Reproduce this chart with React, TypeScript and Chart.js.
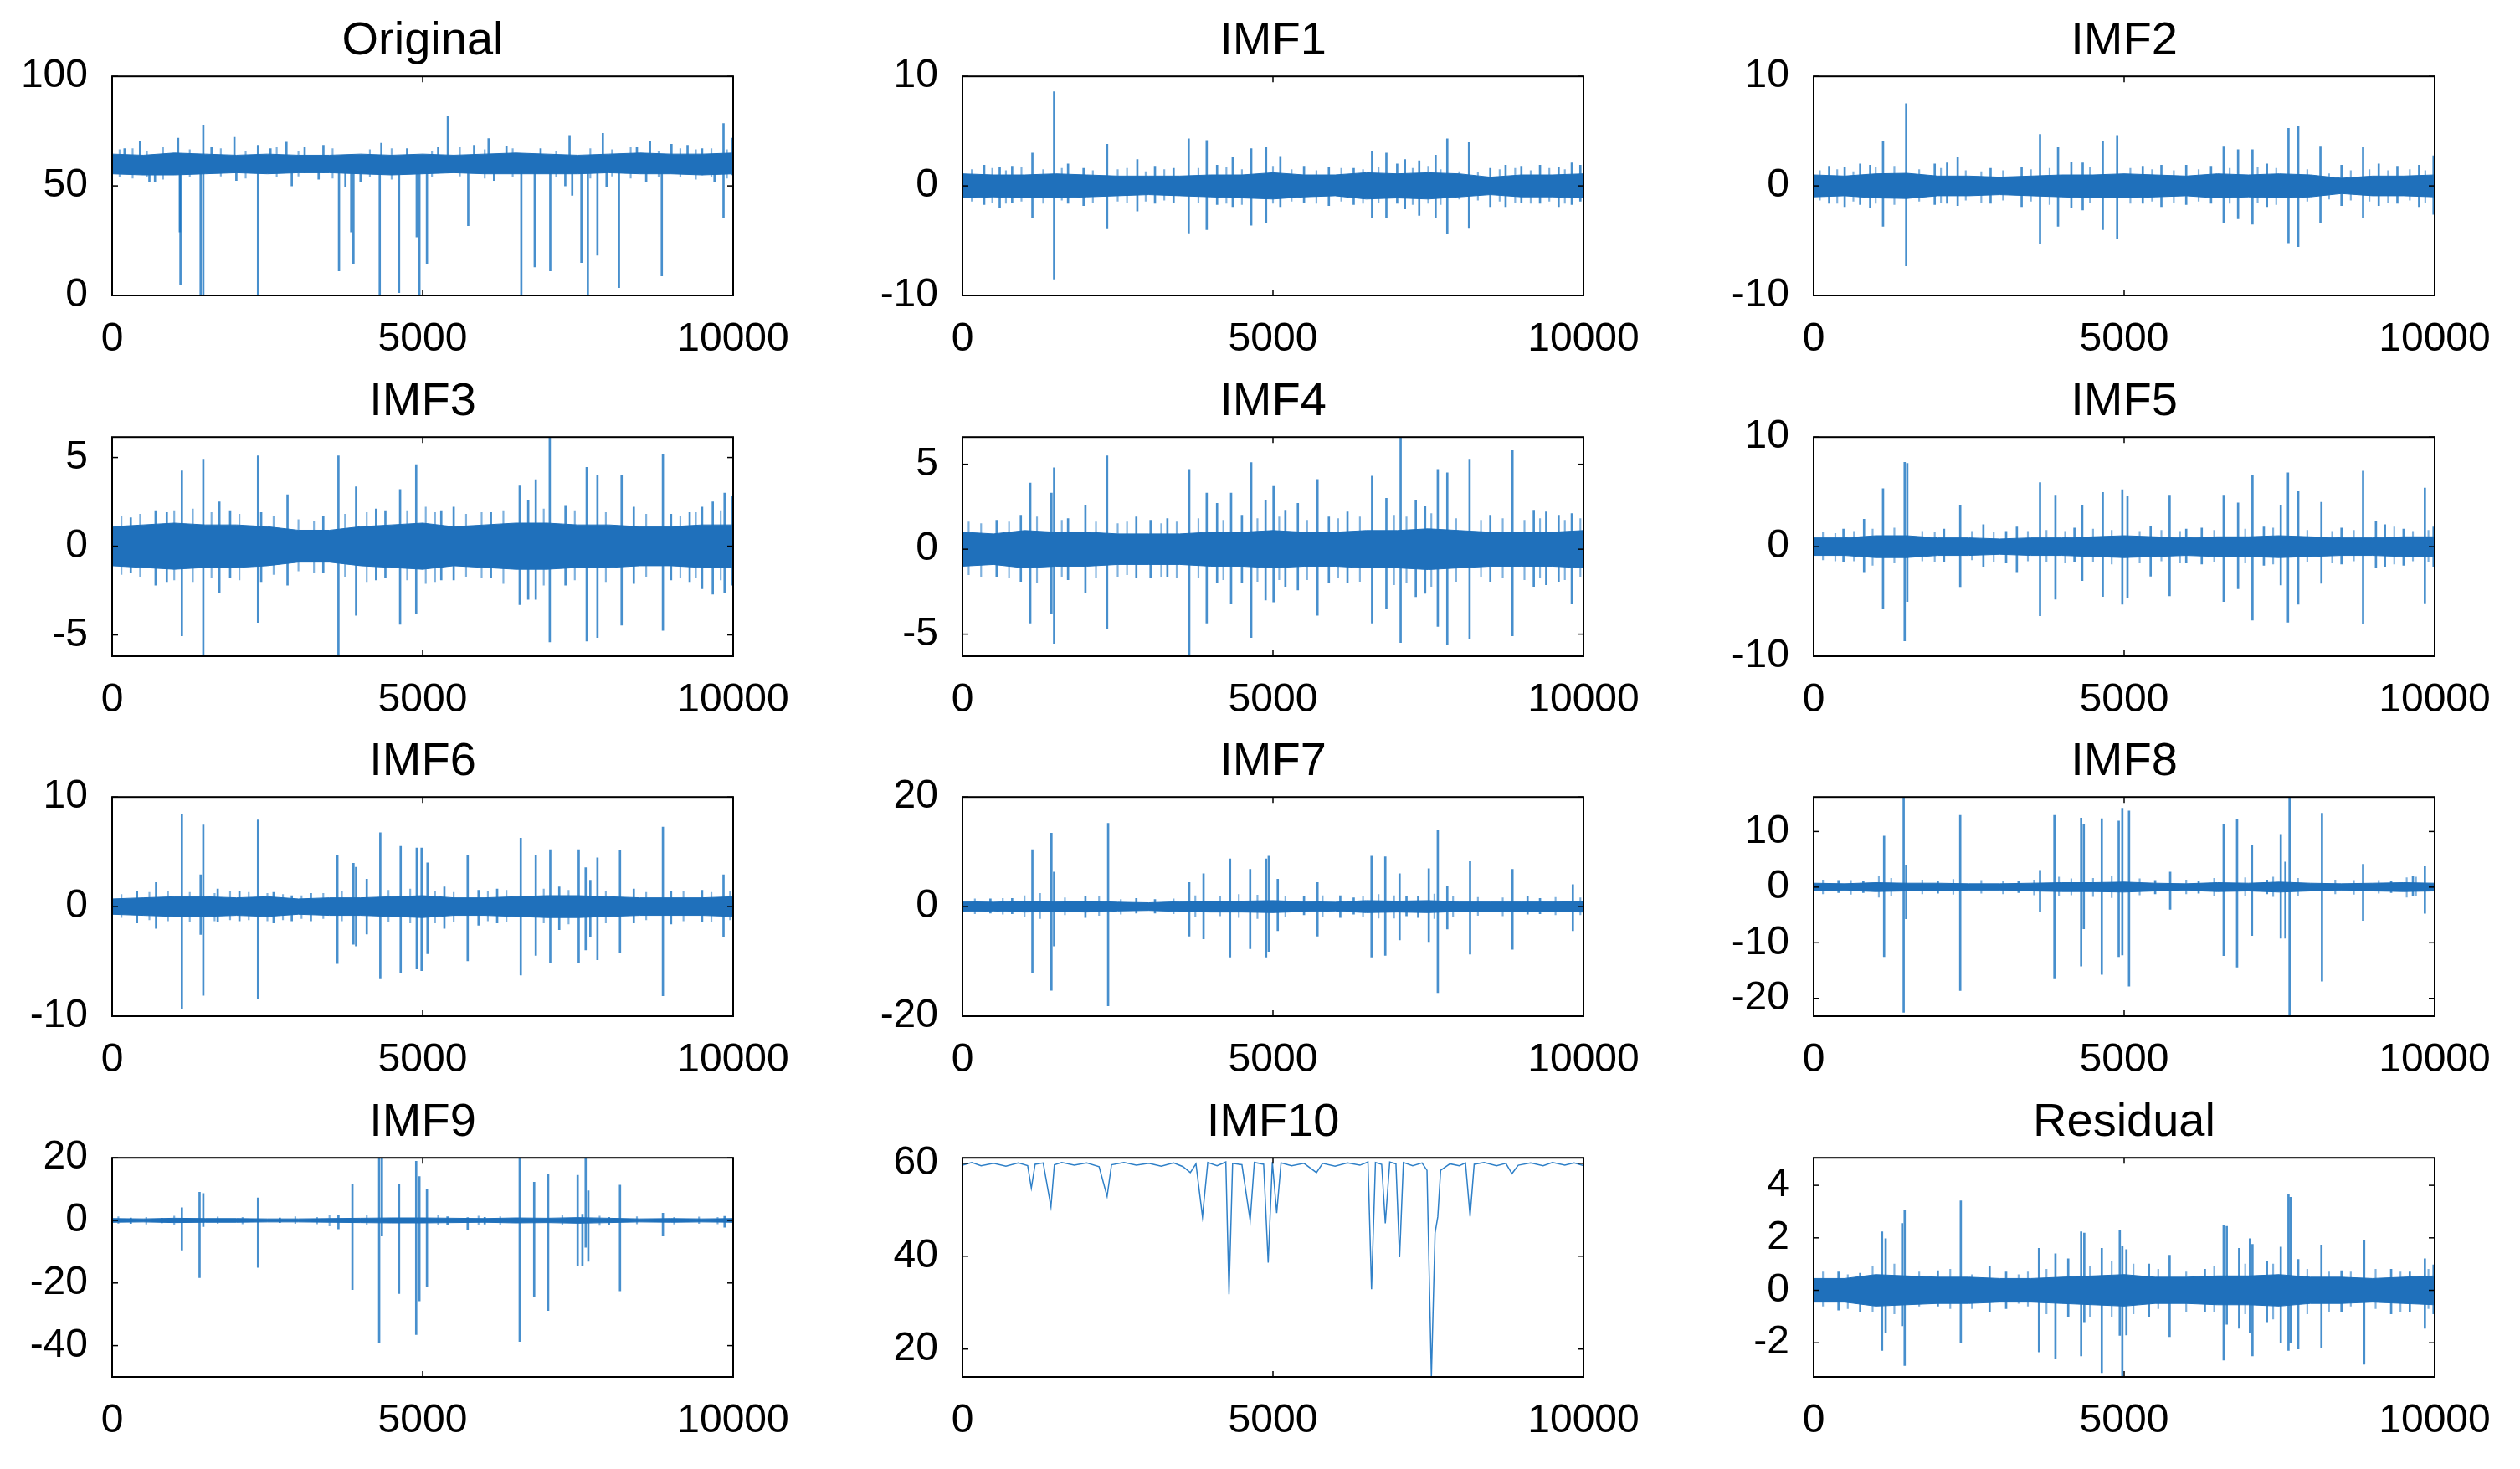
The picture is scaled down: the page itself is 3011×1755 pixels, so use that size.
import React, { useEffect, useRef } from 'react';
import { Chart, registerables } from 'chart.js';

Chart.register(...registerables);

// ---------- shared axes ----------
const xTickValues = [0, 5000, 10000];
const bandX = [0, 500, 1000, 1500, 2000, 2500, 3000, 3500, 4000, 4500, 5000, 5500, 6000, 6500, 7000, 7500, 8000, 8500, 9000, 9500, 10000];

// ---------- Original ----------
const origBandHi = [64.5, 64, 65, 64.5, 64, 64.5, 64, 64, 64.5, 64, 64.5, 64, 64.5, 65, 64.5, 64, 64.5, 65, 64.5, 64.5, 65];
const origBandLo = [55.5, 55, 55, 55.5, 56, 55.5, 56, 56, 55.5, 55, 55.5, 56, 55.5, 55.5, 55.5, 55.5, 56, 55.5, 55.5, 55, 55.5];
const origSpikes = [
  [200, 67, 57], [449, 70.5, 57], [600, 64, 52], [690, 63, 52], [1062, 71.8, 56], [1090, 62, 29], [1100, 63, 5],
  [1425, 63, 0], [1468, 77.8, 0], [1600, 67.5, 57], [1969, 72.2, 56], [2000, 63, 52.5], [2349, 68.5, 0], [2550, 67, 56],
  [2807, 70, 56], [2893, 63, 50], [3100, 67.5, 56], [3325, 63, 53], [3402, 68.5, 56], [3653, 63, 11.2], [3756, 63, 49.5],
  [3850, 63, 29], [3886, 63, 14.6], [4000, 63, 52], [4309, 63, 0], [4335, 69.5, 56], [4620, 63, 1.3], [4750, 67, 56],
  [4905, 63, 26.7], [4948, 63, 0], [5069, 63, 14.6], [5250, 67.5, 56], [5406, 81.6, 56], [5734, 63, 31.8], [5829, 68.5, 56],
  [6062, 71.6, 56], [6150, 63, 52.5], [6350, 68, 56], [6589, 63, 0], [6805, 63, 13], [6900, 67, 56], [7055, 63, 11.2],
  [7297, 63, 50], [7366, 73, 56], [7409, 63, 45.7], [7556, 60, 15], [7660, 63, 0], [7815, 63, 18.4], [7902, 74, 56],
  [7962, 63, 49.5], [8161, 63, 3.6], [8450, 67.5, 56], [8600, 63, 52], [8661, 70.5, 56], [8851, 63, 8.9], [9007, 69, 56],
  [9266, 68.5, 56], [9500, 67, 55], [9700, 63, 52], [9845, 78.5, 35.6], [9983, 71.8, 55],
];
const origFringe = [
  [120, 66.5, 54], [330, 67, 53.5], [560, 66, 54], [820, 67.5, 53], [1250, 66.5, 54], [1750, 67, 54.5], [2150, 66, 53.5],
  [2650, 67.5, 54], [3000, 66, 54.5], [3550, 67, 53.5], [4150, 66.5, 54], [4500, 67, 53], [5150, 66, 54], [5600, 67.5, 54.5],
  [6000, 66.5, 53.5], [6450, 67, 54], [7150, 66, 54], [7700, 67, 53.5], [8050, 66.5, 54.5], [8350, 67.5, 53.5],
  [8800, 66, 54], [9150, 67, 54], [9400, 66.5, 53], [9650, 67, 54], [9900, 66.5, 53.5],
];

// ---------- IMF1 ----------
const imf1BandHi = [1.1, 1.0, 1.0, 1.1, 1.0, 0.9, 0.9, 0.9, 1.0, 1.0, 1.2, 1.0, 1.0, 1.2, 1.1, 1.2, 1.1, 0.8, 1.0, 1.0, 1.1];
const imf1BandLo = [-1.1, -1.0, -1.1, -1.1, -1.0, -0.9, -0.8, -0.9, -1.0, -1.1, -1.2, -1.0, -0.9, -1.2, -1.1, -1.2, -1.0, -0.8, -1.0, -1.0, -1.1];
const imf1Spikes = [
  [350, 1.9, -1.7], [600, 1.7, -2.0], [800, 1.8, -1.5], [1126, 3.0, -2.9], [1476, 8.6, -8.5], [1700, 2.0, -1.6],
  [1950, 1.6, -1.8], [2329, 3.8, -3.85], [2816, 2.4, -2.3], [3100, 1.8, -1.6], [3400, 1.6, -1.5], [3643, 4.3, -4.3],
  [3933, 4.15, -4.0], [4100, 1.9, -1.7], [4352, 2.6, -1.9], [4650, 3.4, -3.6], [4889, 3.5, -3.4], [5119, 2.7, -1.9],
  [5500, 1.8, -1.5], [5900, 1.7, -1.8], [6300, 1.6, -1.7], [6596, 3.2, -2.9], [6826, 3.0, -2.9], [7000, 2.0, -1.6],
  [7125, 2.4, -2.1], [7355, 2.3, -2.7], [7619, 2.8, -2.9], [7807, 4.3, -4.4], [8157, 3.95, -3.8], [8500, 1.6, -1.9],
  [8746, 1.9, -1.9], [9000, 1.8, -1.5], [9300, 1.9, -1.6], [9600, 1.7, -1.9], [9812, 2.1, -1.7], [9950, 1.9, -1.4],
];
const imf1Fringe = [
  [150, 1.5, -1.4], [480, 1.6, -1.5], [700, 1.4, -1.6], [950, 1.7, -1.4], [1300, 1.5, -1.6], [1600, 1.6, -1.3],
  [2100, 1.4, -1.5], [2500, 1.5, -1.4], [2650, 1.6, -1.5], [2950, 1.3, -1.4], [3250, 1.5, -1.3], [3800, 1.6, -1.5],
  [4250, 1.7, -1.6], [4500, 1.5, -1.7], [5000, 1.8, -1.6], [5300, 1.5, -1.4], [5700, 1.4, -1.6], [6100, 1.6, -1.4],
  [6450, 1.5, -1.6], [6700, 1.7, -1.5], [7250, 1.6, -1.7], [7500, 1.8, -1.6], [7700, 1.5, -1.7], [8000, 1.3, -1.2],
  [8300, 1.2, -1.3], [8650, 1.5, -1.4], [8900, 1.6, -1.5], [9150, 1.4, -1.6], [9450, 1.6, -1.4], [9700, 1.5, -1.6],
];

// ---------- IMF2 ----------
const imf2BandHi = [1.0, 0.9, 1.1, 1.15, 0.9, 0.9, 0.8, 0.9, 1.0, 1.0, 1.1, 1.0, 0.9, 1.1, 1.0, 1.1, 1.0, 0.7, 0.9, 0.9, 1.0];
const imf2BandLo = [-1.0, -0.9, -1.1, -1.15, -0.9, -0.9, -0.8, -0.9, -1.0, -1.1, -1.1, -1.0, -0.9, -1.1, -1.0, -1.1, -1.0, -0.7, -0.9, -0.9, -1.0];
const imf2Spikes = [
  [250, 1.8, -1.6], [500, 1.7, -1.9], [750, 2.0, -1.7], [911, 1.9, -2.0], [1118, 4.1, -3.7], [1491, 7.5, -7.3],
  [1950, 2.0, -1.7], [2150, 2.1, -1.6], [2320, 2.6, -1.8], [2850, 1.6, -1.6], [3350, 1.7, -1.9], [3646, 4.7, -5.3],
  [3936, 3.5, -3.7], [4150, 2.2, -2.0], [4333, 2.1, -2.2], [4656, 4.1, -4.0], [4888, 4.6, -4.8], [5300, 1.8, -1.6],
  [5600, 1.9, -1.9], [6000, 1.9, -1.7], [6400, 1.8, -1.6], [6603, 3.55, -3.4], [6835, 3.3, -3.0], [7067, 3.3, -3.5],
  [7300, 2.0, -1.9], [7647, 5.25, -5.2], [7804, 5.4, -5.55], [8161, 3.55, -3.4], [8500, 1.9, -1.8], [8848, 3.5, -2.9],
  [9100, 2.0, -1.8], [9400, 1.8, -1.6], [9750, 1.9, -1.9], [9983, 2.75, -2.6],
];
const imf2Fringe = [
  [100, 1.4, -1.3], [380, 1.5, -1.6], [640, 1.3, -1.4], [1000, 1.7, -1.6], [1300, 1.8, -1.7], [1700, 1.5, -1.4],
  [2050, 1.6, -1.5], [2450, 1.4, -1.3], [2700, 1.3, -1.5], [3050, 1.4, -1.3], [3500, 1.5, -1.4], [3800, 1.6, -1.7],
  [4450, 1.7, -1.5], [5100, 1.6, -1.6], [5450, 1.5, -1.4], [5800, 1.4, -1.5], [6200, 1.5, -1.4], [6700, 1.6, -1.6],
  [7150, 1.7, -1.5], [7450, 1.6, -1.7], [7950, 1.5, -1.4], [8300, 1.1, -1.2], [8650, 1.4, -1.3], [8950, 1.5, -1.4],
  [9250, 1.4, -1.5], [9600, 1.5, -1.3], [9850, 1.4, -1.5],
];

// ---------- IMF3 ----------
const imf3BandHi = [1.1, 1.2, 1.3, 1.2, 1.2, 1.1, 0.9, 0.9, 1.1, 1.2, 1.3, 1.1, 1.2, 1.3, 1.3, 1.2, 1.2, 1.1, 1.1, 1.2, 1.2];
const imf3BandLo = [-1.1, -1.2, -1.3, -1.2, -1.2, -1.1, -0.9, -0.9, -1.1, -1.2, -1.3, -1.1, -1.2, -1.3, -1.3, -1.2, -1.2, -1.1, -1.1, -1.2, -1.2];
const imf3Spikes = [
  [300, 1.6, -1.5], [700, 2.0, -2.2], [880, 1.9, -2.0], [1123, 4.25, -5.05], [1468, 4.9, -6.2], [1727, 2.5, -2.6],
  [1900, 2.0, -1.8], [2349, 5.1, -4.3], [2400, 1.9, -2.0], [2824, 2.9, -2.2], [3400, 1.7, -1.5], [3644, 5.1, -6.2],
  [3929, 3.35, -3.9], [4250, 2.1, -1.9], [4400, 2.0, -1.8], [4637, 3.2, -4.4], [4896, 4.6, -3.8], [5300, 2.0, -1.9],
  [5500, 2.2, -1.9], [6100, 1.9, -1.8], [6563, 3.4, -3.3], [6700, 2.6, -3.0], [6822, 3.75, -3.0], [7047, 6.1, -5.4],
  [7300, 2.3, -2.2], [7642, 4.45, -5.35], [7815, 4.0, -5.15], [8204, 4.0, -4.45], [8400, 2.2, -2.1], [8869, 5.2, -4.75],
  [9000, 1.8, -1.9], [9300, 1.9, -2.0], [9500, 2.2, -2.4], [9672, 2.5, -2.7], [9862, 3.0, -2.6], [9985, 2.8, -2.2],
];
const imf3Fringe = [
  [150, 1.7, -1.6], [450, 1.8, -1.7], [1000, 2.0, -1.9], [1300, 2.1, -2.0], [1600, 1.9, -1.8], [2050, 1.8, -1.9],
  [2600, 1.7, -1.6], [3000, 1.5, -1.4], [3250, 1.4, -1.5], [3750, 1.8, -1.7], [4100, 1.9, -2.0], [4750, 2.0, -1.9],
  [5050, 2.2, -2.1], [5200, 1.9, -2.0], [5700, 1.8, -1.7], [5950, 1.9, -1.8], [6300, 2.0, -2.1], [6950, 2.1, -2.2],
  [7450, 2.0, -1.9], [7950, 1.9, -2.0], [8600, 1.8, -1.7], [9150, 1.7, -1.8], [9400, 1.9, -1.8], [9800, 2.0, -1.9],
];

// ---------- IMF4 ----------
const imf4BandHi = [1.0, 0.9, 1.1, 1.0, 1.0, 0.9, 0.9, 0.9, 1.0, 1.0, 1.1, 1.0, 1.0, 1.1, 1.1, 1.2, 1.1, 1.0, 1.0, 1.0, 1.1];
const imf4BandLo = [-1.0, -0.9, -1.1, -1.0, -1.0, -0.9, -0.9, -0.9, -1.0, -1.0, -1.1, -1.0, -1.0, -1.1, -1.1, -1.2, -1.1, -1.0, -1.0, -1.0, -1.1];
const imf4Spikes = [
  [550, 1.7, -1.6], [940, 2.0, -1.9], [1092, 3.9, -4.35], [1433, 3.3, -3.8], [1476, 4.8, -5.55], [1700, 1.8, -1.8],
  [1980, 2.6, -2.55], [2329, 5.5, -4.7], [2800, 1.9, -1.7], [3029, 1.7, -1.7], [3300, 1.8, -1.6], [3652, 4.7, -6.3],
  [3933, 3.3, -4.35], [4100, 2.7, -2.0], [4326, 3.3, -3.2], [4500, 2.0, -2.0], [4650, 5.1, -5.2], [4881, 2.9, -3.0],
  [5009, 3.7, -3.1], [5200, 2.3, -2.2], [5401, 2.7, -2.4], [5717, 4.1, -3.9], [5900, 1.9, -2.0], [6200, 2.2, -2.0],
  [6596, 4.3, -4.35], [6826, 3.0, -3.5], [7056, 6.6, -5.5], [7300, 2.9, -2.8], [7450, 2.5, -2.6], [7654, 4.7, -4.55],
  [7807, 4.5, -5.6], [8166, 5.3, -5.25], [8500, 2.0, -1.9], [8857, 5.8, -5.1], [9200, 2.3, -2.2], [9400, 2.2, -2.1],
  [9600, 2.0, -1.9], [9812, 2.1, -3.2],
];
const imf4Fringe = [
  [100, 1.6, -1.5], [300, 1.5, -1.6], [750, 1.6, -1.7], [1200, 1.9, -2.0], [1600, 1.7, -1.6], [2150, 1.6, -1.7],
  [2500, 1.5, -1.6], [2650, 1.6, -1.5], [3200, 1.5, -1.6], [3450, 1.6, -1.7], [3800, 1.8, -1.7], [4200, 1.7, -1.8],
  [4750, 1.8, -1.9], [5100, 1.9, -1.8], [5550, 1.7, -1.8], [6050, 1.8, -1.7], [6400, 1.9, -1.9], [6950, 2.0, -2.1],
  [7150, 1.9, -2.0], [7550, 2.1, -2.2], [7950, 1.8, -1.9], [8350, 1.7, -1.6], [8700, 1.8, -1.7], [9050, 1.7, -1.8],
  [9300, 1.8, -1.7], [9700, 1.7, -1.8], [9950, 1.8, -1.6],
];

// ---------- IMF5 ----------
const imf5BandHi = [0.8, 0.8, 1.0, 1.0, 0.8, 0.8, 0.7, 0.8, 0.8, 0.9, 1.0, 0.9, 0.8, 0.9, 0.9, 1.0, 0.9, 0.8, 0.8, 0.9, 0.9];
const imf5BandLo = [-0.8, -0.8, -1.0, -1.0, -0.8, -0.8, -0.7, -0.8, -0.8, -0.9, -1.0, -0.9, -0.8, -0.9, -0.9, -1.0, -0.9, -0.8, -0.8, -0.9, -0.9];
const imf5Spikes = [
  [480, 1.6, -1.4], [812, 2.5, -2.3], [1118, 5.3, -5.65], [1466, 7.7, -8.6], [1508, 7.6, -5.0], [2100, 1.6, -1.4],
  [2361, 3.8, -3.65], [2734, 2.0, -1.8], [3100, 1.4, -1.5], [3273, 1.8, -2.3], [3646, 5.85, -6.3], [3894, 4.7, -4.8],
  [4200, 1.7, -1.4], [4325, 3.8, -3.1], [4656, 4.95, -4.55], [4971, 5.2, -5.25], [5054, 4.6, -4.7], [5427, 1.9, -2.7],
  [5733, 4.7, -4.5], [6000, 1.6, -1.5], [6250, 1.7, -1.6], [6603, 4.7, -5.0], [6835, 4.0, -3.85], [7067, 6.5, -6.7],
  [7250, 1.8, -1.7], [7523, 3.8, -3.5], [7639, 6.75, -6.9], [7804, 5.1, -5.25], [8177, 4.05, -3.35], [8500, 1.7, -1.6],
  [8848, 6.9, -7.05], [9055, 2.3, -1.9], [9200, 2.0, -1.8], [9500, 1.6, -1.7], [9843, 5.35, -5.15], [9983, 1.8, -1.8],
];
const imf5Fringe = [
  [150, 1.3, -1.2], [350, 1.2, -1.3], [650, 1.4, -1.3], [950, 1.6, -1.7], [1300, 1.7, -1.5], [1750, 1.4, -1.3],
  [1950, 1.3, -1.4], [2550, 1.4, -1.2], [2900, 1.3, -1.4], [3450, 1.4, -1.3], [3750, 1.5, -1.4], [4050, 1.4, -1.5],
  [4500, 1.6, -1.4], [4800, 1.5, -1.6], [5250, 1.4, -1.5], [5600, 1.5, -1.3], [5900, 1.4, -1.5], [6450, 1.5, -1.4],
  [6950, 1.6, -1.5], [7400, 1.7, -1.6], [7950, 1.5, -1.4], [8350, 1.4, -1.5], [8700, 1.5, -1.3], [9350, 1.8, -1.6],
  [9650, 1.4, -1.3], [9900, 1.5, -1.4],
];

// ---------- IMF6 ----------
const imf6BandHi = [0.7, 0.8, 0.9, 0.9, 0.8, 0.9, 0.7, 0.8, 0.8, 0.9, 1.0, 0.8, 0.8, 0.9, 1.0, 1.0, 0.9, 0.8, 0.8, 0.8, 0.9];
const imf6BandLo = [-0.7, -0.8, -0.9, -0.9, -0.8, -0.9, -0.7, -0.8, -0.8, -0.9, -1.0, -0.8, -0.8, -0.9, -1.0, -1.0, -0.9, -0.8, -0.8, -0.8, -0.9];
const imf6Spikes = [
  [400, 1.4, -1.5], [708, 2.2, -2.0], [1123, 8.45, -9.3], [1425, 2.9, -2.55], [1468, 7.45, -8.1], [1700, 1.6, -1.4],
  [2050, 1.4, -1.3], [2349, 7.9, -8.4], [2600, 1.3, -1.5], [2893, 1.0, -1.3], [3200, 1.2, -1.3], [3627, 4.7, -5.2],
  [3886, 3.95, -3.45], [3929, 3.6, -3.6], [4100, 2.5, -2.5], [4318, 6.75, -6.6], [4646, 5.5, -6.0], [4905, 5.35, -5.7],
  [4983, 5.35, -5.85], [5078, 4.0, -4.3], [5350, 1.8, -2.0], [5725, 4.65, -4.95], [5900, 1.5, -1.7], [6200, 1.6, -1.5],
  [6580, 6.25, -6.25], [6822, 4.7, -4.45], [7055, 5.2, -5.1], [7200, 1.8, -2.1], [7513, 5.2, -5.1], [7625, 3.55, -3.95],
  [7700, 2.4, -2.8], [7815, 4.45, -4.85], [8178, 5.1, -4.2], [8400, 1.6, -1.5], [8869, 7.25, -8.15], [9000, 1.4, -1.6],
  [9500, 1.5, -1.4], [9845, 2.9, -2.8],
];
const imf6Fringe = [
  [150, 1.1, -1.0], [600, 1.3, -1.2], [900, 1.4, -1.3], [1250, 1.3, -1.4], [1650, 1.2, -1.3], [1900, 1.4, -1.2],
  [2200, 1.3, -1.2], [2500, 1.2, -1.3], [2750, 1.1, -1.2], [3050, 1.0, -1.1], [3400, 1.2, -1.1], [3700, 1.4, -1.3],
  [4450, 1.5, -1.4], [4800, 1.6, -1.5], [5200, 1.4, -1.5], [5500, 1.3, -1.4], [6050, 1.4, -1.3], [6350, 1.5, -1.4],
  [6950, 1.6, -1.5], [7350, 1.5, -1.6], [7950, 1.4, -1.5], [8600, 1.3, -1.2], [9200, 1.4, -1.3], [9650, 1.3, -1.4],
  [9950, 1.4, -1.2],
];

// ---------- IMF7 ----------
const imf7BandHi = [0.9, 0.8, 1.0, 0.9, 1.0, 0.8, 0.7, 0.9, 1.0, 1.0, 1.1, 0.9, 0.8, 1.1, 1.0, 1.1, 0.9, 0.9, 0.9, 0.9, 1.0];
const imf7BandLo = [-0.9, -0.8, -1.0, -0.9, -1.0, -0.8, -0.7, -0.9, -1.0, -1.0, -1.1, -0.9, -0.8, -1.1, -1.0, -1.1, -0.9, -0.9, -0.9, -0.9, -1.0];
const imf7Spikes = [
  [450, 1.4, -1.2], [800, 1.5, -1.3], [1126, 10.4, -12.1], [1433, 13.4, -15.3], [1476, 6.3, -7.2], [1980, 1.9, -2.0],
  [2346, 15.2, -18.1], [2800, 1.5, -1.2], [3100, 1.3, -1.2], [3652, 4.4, -5.4], [3882, 6.0, -5.9], [4309, 8.7, -9.2],
  [4633, 6.8, -7.7], [4889, 8.7, -9.2], [4932, 9.2, -8.2], [5077, 5.0, -4.4], [5500, 1.8, -1.5], [5717, 4.4, -5.4],
  [6084, 2.0, -2.0], [6300, 1.6, -1.4], [6587, 9.2, -9.2], [6809, 9.1, -8.9], [7039, 6.0, -6.1], [7150, 1.8, -1.7],
  [7338, 1.8, -2.0], [7509, 6.9, -6.4], [7654, 13.9, -15.7], [7807, 3.8, -4.1], [8174, 8.2, -8.7], [8857, 6.8, -7.8],
  [9100, 1.8, -1.4], [9300, 1.5, -1.3], [9829, 4.0, -4.4],
];
const imf7Fringe = [
  [200, 1.4, -1.3], [650, 1.5, -1.4], [1000, 2.0, -1.8], [1250, 2.4, -2.2], [1650, 1.6, -1.5], [2200, 1.8, -1.6],
  [2550, 1.3, -1.4], [3400, 1.4, -1.3], [3750, 2.0, -1.9], [4150, 1.8, -1.7], [4450, 2.2, -2.0], [4750, 2.1, -2.2],
  [5200, 1.9, -1.8], [5800, 2.0, -1.9], [6450, 1.9, -1.8], [6700, 2.2, -2.1], [6950, 2.0, -2.1], [7600, 2.3, -2.2],
  [7900, 1.8, -1.9], [8300, 1.7, -1.6], [8700, 1.6, -1.7], [9550, 1.7, -1.5], [9950, 1.6, -1.5],
];

// ---------- IMF8 ----------
const imf8BandHi = [0.7, 0.6, 0.8, 0.7, 0.7, 0.6, 0.6, 0.7, 0.8, 0.8, 0.9, 0.7, 0.6, 0.8, 0.7, 0.9, 0.7, 0.6, 0.7, 0.8, 0.7];
const imf8BandLo = [-0.7, -0.6, -0.8, -0.7, -0.7, -0.6, -0.6, -0.7, -0.8, -0.8, -0.9, -0.7, -0.6, -0.8, -0.7, -0.9, -0.7, -0.6, -0.7, -0.8, -0.7];
const imf8Spikes = [
  [400, 1.2, -1.0], [800, 1.1, -1.0], [1135, 9.2, -12.5], [1450, 16.2, -22.5], [1491, 4.0, -5.7], [2000, 1.0, -1.1],
  [2361, 12.9, -18.6], [3300, 1.1, -1.0], [3646, 3.0, -4.5], [3877, 12.9, -16.5], [4308, 12.4, -14.2], [4350, 11.2, -7.5],
  [4640, 12.3, -15.7], [4913, 11.9, -12.5], [4971, 14.2, -12.2], [5079, 13.7, -17.8], [5500, 1.2, -1.2], [5742, 2.7, -4.0],
  [6200, 1.0, -1.1], [6603, 11.3, -12.3], [6819, 12.1, -14.4], [7059, 7.5, -8.7], [7300, 1.3, -1.2], [7523, 9.5, -9.2],
  [7597, 4.5, -9.2], [7664, 16.2, -23.2], [8186, 13.3, -16.9], [8848, 4.1, -6.0], [9300, 1.1, -1.0], [9650, 2.0, -1.5],
  [9843, 3.7, -4.7],
];
const imf8Fringe = [
  [150, 1.3, -1.2], [600, 1.2, -1.3], [1050, 2.0, -1.8], [1250, 1.6, -1.5], [1750, 1.3, -1.2], [2250, 1.4, -1.3],
  [2700, 1.2, -1.1], [3050, 1.1, -1.2], [3550, 1.3, -1.4], [3950, 1.8, -1.6], [4150, 1.5, -1.4], [4500, 1.6, -1.7],
  [4800, 2.0, -1.9], [5250, 1.5, -1.4], [6000, 1.3, -1.2], [6450, 1.6, -1.5], [6950, 1.7, -1.6], [7400, 1.8, -1.7],
  [7800, 1.6, -1.5], [8400, 1.3, -1.2], [8700, 1.2, -1.3], [9100, 1.2, -1.1], [9550, 1.7, -1.8], [9700, 1.8, -1.6],
];

// ---------- IMF9 ----------
const imf9BandHi = [0.6, 0.5, 0.7, 0.6, 0.6, 0.5, 0.5, 0.6, 0.7, 0.8, 0.8, 0.7, 0.6, 0.8, 0.7, 0.9, 0.7, 0.5, 0.6, 0.5, 0.6];
const imf9BandLo = [-0.6, -0.5, -0.7, -0.6, -0.6, -0.5, -0.5, -0.6, -0.7, -0.8, -0.8, -0.7, -0.6, -0.8, -0.7, -0.9, -0.7, -0.5, -0.6, -0.5, -0.6];
const imf9Spikes = [
  [300, 0.8, -1.0], [800, 0.7, -0.8], [1123, 4.05, -9.5], [1408, 9.0, -18.3], [1468, 8.6, -2.0], [2349, 7.2, -15.0],
  [2700, 0.8, -0.7], [3644, 1.8, -2.7], [3869, 11.7, -22.1], [4300, 20.5, -39.2], [4344, 20.5, -5.0], [4620, 11.7, -23.4],
  [4896, 18.9, -36.5], [4948, 14.0, -25.7], [5069, 9.9, -21.2], [5400, 1.2, -1.4], [5725, 0.9, -3.0], [6000, 1.0, -1.2],
  [6563, 20.5, -38.7], [6796, 12.2, -24.3], [7021, 14.9, -28.8], [7496, 14.4, -14.4], [7573, 2.0, -14.4], [7625, 20.5, -8.6],
  [7668, 9.5, -13.1], [8000, 1.0, -1.5], [8178, 11.3, -22.5], [8869, 2.3, -5.0], [9862, 1.3, -2.2],
];
const imf9Fringe = [
  [100, 1.2, -1.0], [550, 1.0, -1.2], [1000, 1.4, -1.3], [1700, 1.1, -1.0], [2100, 1.0, -1.1], [2950, 1.2, -1.0],
  [3300, 1.0, -1.1], [3500, 1.6, -1.8], [4100, 1.5, -1.4], [5250, 1.6, -1.5], [5900, 1.4, -1.3], [6250, 1.2, -1.4],
  [7250, 1.5, -1.4], [7850, 1.4, -1.6], [8450, 1.2, -1.1], [9050, 1.0, -1.2], [9450, 1.1, -1.0], [9750, 1.0, -1.1],
];

// ---------- IMF10 (a single thin line) ----------
const imf10X = [
  0, 150, 300, 500, 700, 900, 1050, 1109, 1170, 1300, 1425, 1480, 1600, 1800, 2000, 2200, 2329, 2400, 2600, 2800,
  3000, 3200, 3400, 3550, 3669, 3760, 3865, 3950, 4100, 4241, 4292, 4350, 4500, 4633, 4700, 4850, 4923, 4990, 5060, 5130,
  5300, 5500, 5700, 5800, 6000, 6200, 6400, 6530, 6587, 6650, 6750, 6809, 6880, 6980, 7039, 7100, 7250, 7400, 7480, 7551,
  7610, 7654, 7700, 7850, 8000, 8100, 8174, 8240, 8400, 8600, 8750, 8848, 8950, 9150, 9350, 9500, 9700, 9850, 10000,
];
const imf10Y = [
  59.6, 60.2, 59.5, 60.0, 59.4, 60.1, 59.5, 54.7, 59.8, 60.1, 50.65, 59.7, 60.2, 59.6, 60.1, 59.3, 52.9, 59.7, 60.2, 59.6,
  60.0, 59.4, 60.1, 59.3, 58.0, 59.9, 48.5, 60.2, 59.5, 60.3, 31.8, 60.0, 59.7, 47.7, 60.2, 59.8, 38.6, 60.3, 49.3, 60.1,
  59.5, 60.0, 58.0, 60.0, 59.4, 60.1, 59.6, 60.3, 32.9, 60.2, 59.8, 47.1, 60.3, 59.9, 39.8, 60.2, 59.5, 60.1, 58.5, 14.0,
  45.0, 48.5, 58.5, 59.9, 59.5, 60.1, 48.6, 59.8, 60.2, 59.5, 60.0, 57.8, 59.6, 60.1, 59.5, 60.2, 59.6, 60.1, 59.5,
];

// ---------- Residual ----------
const resBandHi = [0.45, 0.45, 0.6, 0.55, 0.5, 0.5, 0.45, 0.45, 0.5, 0.55, 0.6, 0.5, 0.5, 0.55, 0.55, 0.6, 0.5, 0.5, 0.45, 0.5, 0.55];
const resBandLo = [-0.45, -0.45, -0.6, -0.55, -0.5, -0.5, -0.45, -0.45, -0.5, -0.55, -0.6, -0.5, -0.5, -0.55, -0.55, -0.6, -0.5, -0.5, -0.45, -0.5, -0.55];
const resSpikes = [
  [400, 0.7, -0.75], [750, 0.65, -0.8], [1102, 2.23, -2.29], [1160, 1.97, -1.6], [1425, 2.55, -1.35], [1466, 3.07, -2.87],
  [2000, 0.75, -0.6], [2370, 3.41, -1.98], [2834, 0.9, -0.8], [3100, 0.7, -0.7], [3629, 1.6, -2.35], [3894, 1.39, -2.61],
  [4100, 1.2, -1.0], [4308, 2.23, -2.5], [4358, 2.18, -1.2], [4640, 1.6, -3.14], [4930, 2.28, -1.72], [4971, 1.7, -3.3],
  [5037, 1.55, -1.7], [5400, 1.0, -1.0], [5733, 1.34, -1.77], [6300, 0.8, -0.8], [6603, 2.49, -2.66], [6653, 2.44, -1.3],
  [6852, 1.6, -1.45], [7026, 1.97, -1.61], [7067, 1.75, -2.5], [7300, 1.1, -1.2], [7523, 1.65, -1.98], [7647, 3.65, -2.29],
  [7680, 3.55, -2.0], [7804, 1.18, -2.24], [8177, 1.73, -2.19], [8500, 0.75, -0.8], [8865, 1.92, -2.82], [9300, 0.8, -0.9],
  [9600, 0.7, -0.8], [9843, 1.2, -1.45], [9983, 0.97, -0.9],
];
const resFringe = [
  [150, 0.7, -0.6], [550, 0.6, -0.7], [950, 0.9, -0.8], [1300, 1.0, -0.9], [1700, 0.7, -0.6], [2200, 0.8, -0.7],
  [2550, 0.6, -0.7], [3300, 0.6, -0.5], [3450, 0.7, -0.6], [3750, 0.8, -0.9], [4450, 0.9, -1.0], [4800, 1.1, -1.0],
  [5150, 1.0, -0.9], [5550, 0.8, -0.7], [6000, 0.7, -0.8], [6450, 0.9, -0.8], [6950, 1.0, -0.9], [7400, 1.0, -1.1],
  [7950, 0.8, -0.9], [8300, 0.7, -0.8], [8650, 0.7, -0.6], [9050, 0.8, -0.7], [9450, 0.7, -0.8], [9900, 0.8, -0.7],
];

// ---------- panel definitions ----------
const panelTitles = ['Original', 'IMF1', 'IMF2', 'IMF3', 'IMF4', 'IMF5', 'IMF6', 'IMF7', 'IMF8', 'IMF9', 'IMF10', 'Residual'];
const yMins = [0, -10, -10, -6.2, -6.3, -10, -10, -20, -23.2, -50, 14, -3.3];
const yMaxs = [100, 10, 10, 6.15, 6.6, 10, 10, 20, 16.2, 20, 61.2, 5.05];
const yTickSets = [
  [0, 50, 100], [-10, 0, 10], [-10, 0, 10], [-5, 0, 5], [-5, 0, 5], [-10, 0, 10],
  [-10, 0, 10], [-20, 0, 20], [-20, -10, 0, 10], [-40, -20, 0, 20], [20, 40, 60], [-2, 0, 2, 4],
];
const bandHis = [origBandHi, imf1BandHi, imf2BandHi, imf3BandHi, imf4BandHi, imf5BandHi, imf6BandHi, imf7BandHi, imf8BandHi, imf9BandHi, null, resBandHi];
const bandLos = [origBandLo, imf1BandLo, imf2BandLo, imf3BandLo, imf4BandLo, imf5BandLo, imf6BandLo, imf7BandLo, imf8BandLo, imf9BandLo, null, resBandLo];
const spikeSets = [origSpikes, imf1Spikes, imf2Spikes, imf3Spikes, imf4Spikes, imf5Spikes, imf6Spikes, imf7Spikes, imf8Spikes, imf9Spikes, null, resSpikes];
const fringeSets = [origFringe, imf1Fringe, imf2Fringe, imf3Fringe, imf4Fringe, imf5Fringe, imf6Fringe, imf7Fringe, imf8Fringe, imf9Fringe, null, resFringe];

// ---------- layout ----------
const COL_LEFT = [134, 1150, 2167];
const ROW_TOP = [91, 522, 952, 1383];
const PLOT_W = 742;
const PLOT_H = 262;
const Y_AXIS_W = 134;
const TITLE_H = 91;
const CANVAS_W = 975;
const CANVAS_H = 430;

const FONT = "'Liberation Sans', Arial, Helvetica, sans-serif";
const BAND_COLOR = '#1f70bb';
const SPIKE_COLOR = 'rgba(25,115,192,0.8)';
const FRINGE_COLOR = 'rgba(40,125,200,0.6)';
const LINE_COLOR = '#2f80c8';

const boxPlugin = {
  id: 'matlabBox',
  afterDatasetsDraw(chart: any) {
    const { ctx, chartArea, scales } = chart;
    const { left, top, right, bottom } = chartArea;
    ctx.save();
    ctx.strokeStyle = '#000';
    ctx.lineWidth = 2;
    ctx.strokeRect(left, top, right - left, bottom - top);
    ctx.lineWidth = 1.5;
    const tl = 7;
    const line = (x1: number, y1: number, x2: number, y2: number) => {
      ctx.beginPath();
      ctx.moveTo(x1, y1);
      ctx.lineTo(x2, y2);
      ctx.stroke();
    };
    scales.x.ticks.forEach((t: any) => {
      const px = scales.x.getPixelForValue(t.value);
      line(px, bottom, px, bottom - tl);
      line(px, top, px, top + tl);
    });
    scales.y.ticks.forEach((t: any) => {
      const py = scales.y.getPixelForValue(t.value);
      line(left, py, left + tl, py);
      line(right, py, right - tl, py);
    });
    ctx.restore();
  },
};

function Panel({ idx }: { idx: number }) {
  const ref = useRef<HTMLCanvasElement | null>(null);
  const col = idx % 3;
  const row = Math.floor(idx / 3);
  const left = COL_LEFT[col] - Y_AXIS_W;
  const top = ROW_TOP[row] - TITLE_H;

  useEffect(() => {
    if (!ref.current) return;
    const datasets: any[] = [];
    const hi = bandHis[idx];
    const lo = bandLos[idx];
    const spikes = spikeSets[idx];
    const fringe = fringeSets[idx];
    if (hi && lo) {
      datasets.push({
        type: 'line',
        data: bandX.map((x, i) => ({ x, y: hi[i] })),
        borderColor: BAND_COLOR,
        backgroundColor: BAND_COLOR,
        borderWidth: 1,
        pointRadius: 0,
        tension: 0,
        fill: '+1',
      });
      datasets.push({
        type: 'line',
        data: bandX.map((x, i) => ({ x, y: lo[i] })),
        borderColor: BAND_COLOR,
        borderWidth: 1,
        pointRadius: 0,
        tension: 0,
        fill: false,
      });
    }
    if (idx === 10) {
      datasets.push({
        type: 'line',
        data: imf10X.map((x, i) => ({ x, y: imf10Y[i] })),
        borderColor: LINE_COLOR,
        borderWidth: 1.5,
        pointRadius: 0,
        tension: 0,
        fill: false,
      });
    }
    if (spikes) {
      datasets.push({
        type: 'bar',
        data: spikes.map(([x, h, l]) => ({ x, y: [l, h] })),
        backgroundColor: SPIKE_COLOR,
        borderWidth: 0,
        barThickness: 2,
        grouped: false,
      });
    }
    if (fringe) {
      datasets.push({
        type: 'bar',
        data: fringe.map(([x, h, l]) => ({ x, y: [l, h] })),
        backgroundColor: FRINGE_COLOR,
        borderWidth: 0,
        barThickness: 1.5,
        grouped: false,
      });
    }

    const yTicks = yTickSets[idx];
    const chart = new Chart(ref.current, {
      type: 'bar',
      data: { datasets },
      plugins: [boxPlugin],
      options: {
        responsive: false,
        animation: false,
        devicePixelRatio: 1,
        layout: { padding: { left: 0, top: 0, bottom: 0, right: CANVAS_W - Y_AXIS_W - PLOT_W } },
        plugins: {
          legend: { display: false },
          tooltip: { enabled: false },
          title: {
            display: true,
            text: panelTitles[idx],
            fullSize: false,
            color: '#000',
            font: { family: FONT, size: 56, weight: 'normal', lineHeight: 1.2 },
            padding: { top: 16, bottom: 8 },
          },
        },
        scales: {
          x: {
            type: 'linear',
            min: 0,
            max: 10000,
            offset: false,
            grid: { display: false, drawTicks: false, offset: false },
            border: { display: false },
            ticks: {
              color: '#000',
              font: { family: FONT, size: 48 },
              padding: 24,
              maxRotation: 0,
              autoSkip: false,
              callback: (v: any) => String(v),
            },
            afterBuildTicks: (s: any) => {
              s.ticks = xTickValues.map((v) => ({ value: v }));
            },
            afterFit: (s: any) => {
              s.height = CANVAS_H - TITLE_H - PLOT_H;
              s.paddingLeft = 0;
              s.paddingRight = 0;
            },
          },
          y: {
            type: 'linear',
            min: yMins[idx],
            max: yMaxs[idx],
            grid: { display: false, drawTicks: false },
            border: { display: false },
            ticks: {
              color: '#000',
              font: { family: FONT, size: 48 },
              padding: 29,
              autoSkip: false,
              callback: (v: any) => String(v),
            },
            afterBuildTicks: (s: any) => {
              s.ticks = yTicks.map((v) => ({ value: v }));
            },
            afterFit: (s: any) => {
              s.width = Y_AXIS_W;
              s.paddingTop = 0;
              s.paddingBottom = 0;
            },
          },
        },
      } as any,
    });
    return () => chart.destroy();
  }, [idx]);

  return (
    <canvas
      ref={ref}
      width={CANVAS_W}
      height={CANVAS_H}
      style={{ position: 'absolute', left, top, width: CANVAS_W, height: CANVAS_H }}
    />
  );
}

export default function App() {
  return (
    <div
      style={{
        position: 'absolute',
        left: 0,
        top: 0,
        width: 3011,
        height: 1755,
        background: '#fff',
        overflow: 'hidden',
      }}
    >
      {panelTitles.map((_, i) => (
        <Panel key={i} idx={i} />
      ))}
    </div>
  );
}
